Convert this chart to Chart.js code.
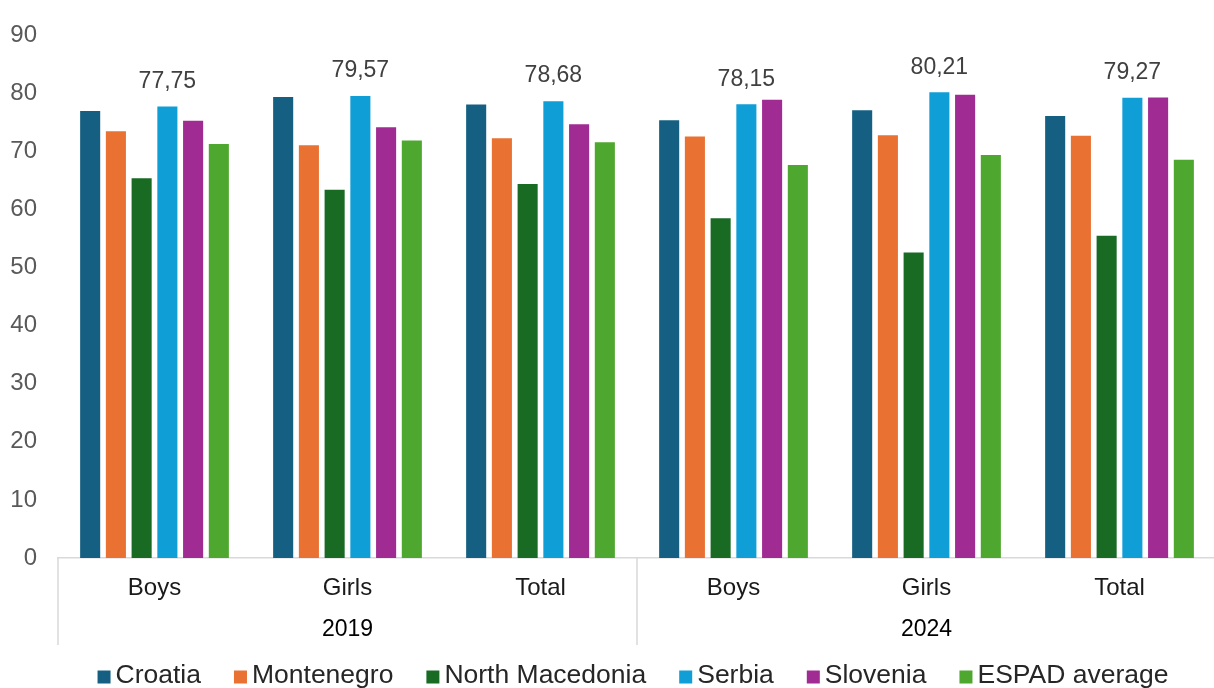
<!DOCTYPE html>
<html>
<head>
<meta charset="utf-8">
<script src="https://cdn.jsdelivr.net/npm/chart.js@4.4.1/dist/chart.umd.min.js"></script>
<style>
  html, body { margin: 0; padding: 0; background: #ffffff; overflow: hidden; }
  #wrap { width: 1216px; height: 688px; }
</style>
</head>
<body>
<div id="wrap"><canvas id="chart" width="1216" height="688"></canvas></div>
<script>
// Categories: sex breakdown within each survey year
const categories = ['Boys', 'Girls', 'Total', 'Boys', 'Girls', 'Total'];
const years = ['2019', '2024'];

// Series values (%)
const croatia        = [77.0, 79.4, 78.1, 75.4, 77.1, 76.1];
const montenegro     = [73.5, 71.1, 72.3, 72.6, 72.8, 72.7];
const northMacedonia = [65.4, 63.4, 64.4, 58.5, 52.6, 55.5];
const serbia         = [77.75, 79.57, 78.68, 78.15, 80.21, 79.27];
const slovenia       = [75.3, 74.2, 74.7, 78.9, 79.8, 79.3];
const espadAverage   = [71.3, 71.9, 71.6, 67.7, 69.4, 68.6];

const seriesNames  = ['Croatia', 'Montenegro', 'North Macedonia', 'Serbia', 'Slovenia', 'ESPAD average'];
const seriesColors = ['#156082', '#E97132', '#196B24', '#0F9ED5', '#A02B93', '#4EA72E'];
const seriesValues = [croatia, montenegro, northMacedonia, serbia, slovenia, espadAverage];

// Only the Serbia series carries value labels
const labelledSeries = 3;

const FONT = "'Liberation Sans', Arial, sans-serif";

// Value labels above the labelled series, with decimal comma
const valueLabels = {
  id: 'valueLabels',
  afterDatasetsDraw(chart) {
    const { ctx } = chart;
    const meta = chart.getDatasetMeta(labelledSeries);
    const data = chart.data.datasets[labelledSeries].data;
    ctx.save();
    ctx.font = '23px ' + FONT;
    ctx.fillStyle = '#404040';
    ctx.textAlign = 'center';
    ctx.textBaseline = 'middle';
    meta.data.forEach((bar, i) => {
      const txt = data[i].toFixed(2).replace('.', ',');
      ctx.fillText(txt, bar.x, bar.y - 25);
    });
    ctx.restore();
  }
};

// Year row under the category labels, with separator lines
const yearAxis = {
  id: 'yearAxis',
  afterDraw(chart) {
    const { ctx, chartArea } = chart;
    const x = chart.scales.x;
    const per = categories.length / years.length;
    const bounds = [chartArea.left];
    for (let g = 1; g < years.length; g++) {
      bounds.push((x.getPixelForTick(g * per - 1) + x.getPixelForTick(g * per)) / 2);
    }
    bounds.push(chartArea.right);
    ctx.save();
    ctx.strokeStyle = '#d9d9d9';
    ctx.lineWidth = 1.5;
    bounds.forEach(bx => {
      ctx.beginPath();
      ctx.moveTo(bx, chartArea.bottom);
      ctx.lineTo(bx, chartArea.bottom + 87);
      ctx.stroke();
    });
    ctx.font = '23px ' + FONT;
    ctx.fillStyle = '#000000';
    ctx.textAlign = 'center';
    ctx.textBaseline = 'middle';
    years.forEach((y, i) => {
      ctx.fillText(y, (bounds[i] + bounds[i + 1]) / 2, chartArea.bottom + 72);
    });
    ctx.restore();
  }
};

// Legend row along the bottom: square swatch followed by the series name
const legendRow = {
  id: 'legendRow',
  afterDraw(chart) {
    const { ctx } = chart;
    const box = 13, gap = 5, spacing = 33, cy = 676, centre = 633;
    ctx.save();
    ctx.font = '26.5px ' + FONT;
    const items = chart.data.datasets.map(ds => ({
      text: ds.label, color: ds.backgroundColor, w: ctx.measureText(ds.label).width
    }));
    const total = items.reduce((s, it) => s + box + gap + it.w, 0) + spacing * (items.length - 1);
    let xPos = centre - total / 2;
    ctx.textBaseline = 'middle';
    ctx.textAlign = 'left';
    items.forEach(it => {
      ctx.fillStyle = it.color;
      ctx.fillRect(xPos, cy - box / 2 + 1, box, box);
      ctx.fillStyle = '#262626';
      ctx.fillText(it.text, xPos + box + gap, cy);
      xPos += box + gap + it.w + spacing;
    });
    ctx.restore();
  }
};

const datasets = seriesNames.map((name, i) => ({
  label: name,
  data: seriesValues[i],
  backgroundColor: seriesColors[i],
  borderWidth: 0,
  categoryPercentage: 0.8,
  barPercentage: 0.78
}));

new Chart(document.getElementById('chart'), {
  type: 'bar',
  data: { labels: categories, datasets },
  options: {
    responsive: false,
    animation: false,
    layout: { padding: { top: 23, right: 0, bottom: 0, left: 0 } },
    plugins: {
      legend: { display: false },
      tooltip: { enabled: false }
    },
    scales: {
      x: {
        grid: { display: false, drawTicks: false },
        border: { display: true, color: '#d9d9d9', width: 1.5 },
        ticks: {
          font: { family: FONT, size: 24 },
          color: '#1a1a1a',
          padding: 16,
          maxRotation: 0,
          autoSkip: false
        },
        afterFit(scale) { scale.height = 130; }
      },
      y: {
        min: 0,
        max: 90,
        grid: { display: false, drawTicks: false },
        border: { display: false },
        ticks: {
          stepSize: 10,
          font: { family: FONT, size: 24 },
          color: '#595959',
          padding: 21
        },
        afterFit(scale) { scale.width = 58; }
      }
    }
  },
  plugins: [valueLabels, yearAxis, legendRow]
});
</script>
</body>
</html>
